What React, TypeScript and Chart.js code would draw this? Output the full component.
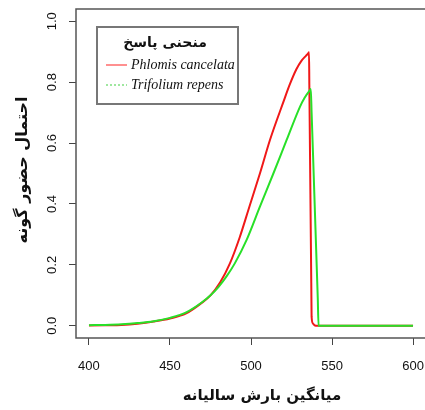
import React, { useEffect, useRef } from "react";
import { Chart, registerables } from "chart.js";

Chart.register(...registerables);

const xTicks = [400, 450, 500, 550, 600];
const yTicks = [0, 0.2, 0.4, 0.6, 0.8, 1.0];

const redX = [400, 410, 420, 430, 440, 450, 460, 470, 475, 481, 487, 493, 499, 505.5, 511.7, 520, 524, 528, 531, 534, 535.4, 535.8, 536.0, 537.2, 537.4, 538.2, 539.5, 541, 560, 580, 600];
const redY = [0.001, 0.002, 0.003, 0.007, 0.014, 0.024, 0.041, 0.077, 0.1, 0.143, 0.205, 0.29, 0.391, 0.5, 0.61, 0.735, 0.793, 0.842, 0.869, 0.887, 0.895, 0.898, 0.79, 0.14, 0.03, 0.008, 0.001, 0, 0, 0, 0];

const greenX = [400, 410, 420, 430, 440, 450, 460, 470, 475, 480, 485, 490, 497.3, 505.5, 513.8, 522, 530.2, 533, 536.4, 536.9, 537.4, 541.2, 541.7, 560, 580, 600];
const greenY = [0.002, 0.003, 0.005, 0.009, 0.015, 0.026, 0.044, 0.078, 0.1, 0.128, 0.163, 0.205, 0.282, 0.391, 0.5, 0.61, 0.719, 0.748, 0.774, 0.777, 0.7, 0.092, 0, 0, 0, 0];

const seriesNames = ["Phlomis cancelata", "Trifolium repens"];
const legendTitle = "منحنی پاسخ";
const xTitle = "میانگین بارش سالیانه";
const yTitle = "احتمال حضور گونه";

const RED = "#f01818";
const GREEN = "#28e028";

const decorPlugin = {
  id: "decor",
  afterDraw(chart: any) {
    const ctx = chart.ctx;
    const a = chart.chartArea;
    const ys = chart.scales.y;
    ctx.save();
    ctx.strokeStyle = "#555";
    ctx.lineWidth = 1.5;
    ctx.strokeRect(a.left, a.top, a.right - a.left, a.bottom - a.top);

    ctx.fillStyle = "#111";
    ctx.font = '13px "Liberation Sans", Arial, sans-serif';
    ctx.textAlign = "center";
    ctx.textBaseline = "middle";
    ys.ticks.forEach((t: any) => {
      const py = ys.getPixelForValue(t.value);
      ctx.save();
      ctx.translate(52, py);
      ctx.rotate(-Math.PI / 2);
      ctx.fillText(Number(t.value).toFixed(1), 0, 0);
      ctx.restore();
    });

    ctx.font = 'bold 16px "DejaVu Sans", sans-serif';
    ctx.save();
    ctx.translate(23, 170);
    ctx.rotate(-Math.PI / 2);
    ctx.fillText(yTitle, 0, 0);
    ctx.restore();

    ctx.font = 'bold 15px "DejaVu Sans", sans-serif';
    ctx.fillText(xTitle, 262, 396);

    const lx = 97, ly = 27, lw = 141, lh = 77;
    ctx.fillStyle = "#fff";
    ctx.fillRect(lx, ly, lw, lh);
    ctx.strokeStyle = "#777";
    ctx.lineWidth = 2;
    ctx.strokeRect(lx, ly, lw, lh);
    ctx.fillStyle = "#111";
    ctx.font = 'bold 14px "DejaVu Sans", sans-serif';
    ctx.fillText(legendTitle, 165, 43);

    const rows = [
      { y: 65, color: "#ff6b6b", dash: [] as number[], name: seriesNames[0] },
      { y: 85, color: "#80e080", dash: [2, 2], name: seriesNames[1] },
    ];
    rows.forEach((r) => {
      ctx.strokeStyle = r.color;
      ctx.lineWidth = 1.5;
      ctx.setLineDash(r.dash);
      ctx.beginPath();
      ctx.moveTo(106, r.y);
      ctx.lineTo(127, r.y);
      ctx.stroke();
      ctx.setLineDash([]);
      ctx.fillStyle = "#111";
      ctx.font = 'italic 14px "Liberation Serif", "Times New Roman", serif';
      ctx.textAlign = "left";
      ctx.fillText(r.name, 131, r.y);
    });
    ctx.restore();
  },
};

export default function App() {
  const ref = useRef<HTMLCanvasElement | null>(null);
  useEffect(() => {
    if (!ref.current) return;
    const chart = new Chart(ref.current, {
      type: "scatter",
      data: {
        datasets: [
          {
            label: seriesNames[0],
            data: redX.map((x, i) => ({ x, y: redY[i] })),
            showLine: true,
            borderColor: RED,
            borderWidth: 2,
            pointRadius: 0,
            cubicInterpolationMode: "monotone",
            order: 1,
          },
          {
            label: seriesNames[1],
            data: greenX.map((x, i) => ({ x, y: greenY[i] })),
            showLine: true,
            borderColor: GREEN,
            borderWidth: 2,
            pointRadius: 0,
            cubicInterpolationMode: "monotone",
            order: 0,
          },
        ],
      },
      options: {
        responsive: false,
        animation: false,
        devicePixelRatio: 1,
        layout: { padding: { left: 0, right: 2, top: 9, bottom: 0 } },
        plugins: { legend: { display: false }, tooltip: { enabled: false } },
        scales: {
          x: {
            type: "linear",
            min: 392,
            max: 608,
            afterBuildTicks: (axis: any) => {
              axis.ticks = xTicks.map((v) => ({ value: v }));
            },
            afterFit: (s: any) => {
              s.height = 72;
              s.paddingLeft = 0;
              s.paddingRight = 0;
            },
            border: { display: false },
            grid: { display: true, drawOnChartArea: false, drawTicks: true, tickLength: 7, color: "#444", lineWidth: 1 },
            ticks: {
              color: "#111",
              font: { family: '"Liberation Sans", Arial, sans-serif', size: 13 },
              padding: 14,
              maxRotation: 0,
              autoSkip: false,
              callback: (v: any) => String(v),
            },
          },
          y: {
            type: "linear",
            min: -0.04,
            max: 1.04,
            afterBuildTicks: (axis: any) => {
              axis.ticks = yTicks.map((v) => ({ value: v }));
            },
            afterFit: (s: any) => {
              s.width = 76;
              s.paddingTop = 0;
              s.paddingBottom = 0;
            },
            border: { display: false },
            grid: { display: true, drawOnChartArea: false, drawTicks: true, tickLength: 7, color: "#444", lineWidth: 1 },
            ticks: { display: false },
          },
        },
      },
      plugins: [decorPlugin],
    });
    return () => chart.destroy();
  }, []);
  return (
    <div style={{ position: "fixed", left: 0, top: 0, width: 425, height: 410, overflow: "hidden", background: "#fff" }}>
      <canvas ref={ref} width={428} height={410} style={{ width: 428, height: 410, display: "block" }} />
    </div>
  );
}
